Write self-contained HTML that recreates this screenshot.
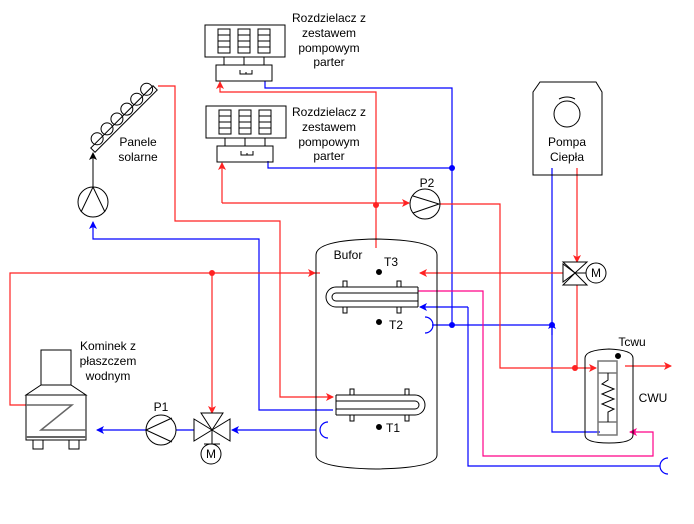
<!DOCTYPE html>
<html><head><meta charset="utf-8"><style>
html,body{margin:0;padding:0;background:#fff}
svg{display:block;font-family:"Liberation Sans",sans-serif;font-size:12px}
</style></head><body>
<svg width="694" height="524" viewBox="0 0 694 524" xmlns="http://www.w3.org/2000/svg">
<defs>
<marker id="ar" markerWidth="8" markerHeight="8" refX="7" refY="4" orient="auto" markerUnits="userSpaceOnUse"><path d="M0,0 L8,4 L0,8 L2,4z" fill="#f22"/></marker>
<marker id="ab" markerWidth="8" markerHeight="8" refX="7" refY="4" orient="auto" markerUnits="userSpaceOnUse"><path d="M0,0 L8,4 L0,8 L2,4z" fill="#00f"/></marker>
<marker id="ap" markerWidth="8" markerHeight="8" refX="7" refY="4" orient="auto" markerUnits="userSpaceOnUse"><path d="M0,0 L8,4 L0,8 L2,4z" fill="#f08"/></marker>
<marker id="ak" markerWidth="8" markerHeight="8" refX="7" refY="4" orient="auto" markerUnits="userSpaceOnUse"><path d="M0,0 L8,4 L0,8 L2,4z" fill="#000"/></marker>
</defs>
<g fill="none" stroke-width="1.2">
<g stroke="#00f">
<path d="M265,81 V88 H452 V325"/>
<path d="M268,161 V168 H452"/>
<path d="M432,325 H552"/>
<path d="M552,168 V432 H600"/>
<path d="M468,307 V466 H660"/>
<path d="M468,307 H420" marker-end="url(#ab)"/>
<path d="M316,430 H232" marker-end="url(#ab)"/>
<path d="M194,430 H176"/>
<path d="M146,430 H97" marker-end="url(#ab)"/>
<path d="M333,410 H259 V239 H93 V222" marker-end="url(#ab)"/>
<path d="M552,335 V322" marker-end="url(#ab)"/>
</g>
<g stroke="#f22">
<path d="M376,248 V92 H220 V82" marker-end="url(#ar)"/>
<path d="M222,203 V163" marker-end="url(#ar)"/>
<path d="M222,203 H409" marker-end="url(#ar)"/>
<path d="M440,204 H500 V368 H596" marker-end="url(#ar)"/>
<path d="M158,86 H175 V221 H280 V397 H333" marker-end="url(#ar)"/>
<path d="M26,405 H10 V273 H315" marker-end="url(#ar)"/>
<path d="M315,273 H320"/>
<path d="M212,273 V413" marker-end="url(#ar)"/>
<path d="M565,273 H420" marker-end="url(#ar)"/>
<path d="M577,168 V262" marker-end="url(#ar)"/>
<path d="M577,285 V368"/>
<path d="M625,366 H671" marker-end="url(#ar)"/>
</g>
<path stroke="#f08" d="M418,291 H483 V456 H653 V432 H630" marker-end="url(#ap)"/>
<g stroke="none">
<circle cx="212" cy="273" r="3" fill="#f22"/>
<circle cx="376" cy="205" r="3" fill="#f22"/>
<circle cx="575" cy="368" r="3" fill="#f22"/>
<circle cx="452" cy="168" r="3" fill="#00f"/>
<circle cx="452" cy="325" r="3" fill="#00f"/>
<circle cx="552" cy="325" r="3" fill="#00f"/>
</g>
<g stroke="#000" stroke-width="1">
<g>
<rect x="205" y="25" width="80" height="32"/>
<rect x="218" y="29" width="12" height="24"/><path d="M218,35H230M218,41H230M218,47H230"/>
<rect x="238" y="29" width="12" height="24"/><path d="M238,35H250M238,41H250M238,47H250"/>
<rect x="258" y="29" width="12" height="24"/><path d="M258,35H270M258,41H270M258,47H270"/>
<path d="M224,57V65M244,57V65M264,57V65"/>
<rect x="216" y="65" width="56" height="16"/>
<path d="M240,70V74H252V70M246,74V72"/>
</g>
<g transform="translate(1,81)">
<rect x="205" y="25" width="80" height="32"/>
<rect x="218" y="29" width="12" height="24"/><path d="M218,35H230M218,41H230M218,47H230"/>
<rect x="238" y="29" width="12" height="24"/><path d="M238,35H250M238,41H250M238,47H250"/>
<rect x="258" y="29" width="12" height="24"/><path d="M258,35H270M258,41H270M258,47H270"/>
<path d="M224,57V65M244,57V65M264,57V65"/>
<rect x="216" y="65" width="56" height="16"/>
<path d="M240,70V74H252V70M246,74V72"/>
</g>
<g transform="translate(124,119) rotate(-45)">
<rect x="-44" y="-3" width="88" height="6"/>
<circle cx="-33" cy="-5" r="6"/><circle cx="-19" cy="-5" r="6"/><circle cx="-5" cy="-5" r="6"/><circle cx="9" cy="-5" r="6"/><circle cx="23" cy="-5" r="6"/><circle cx="37" cy="-5" r="6"/>
</g>
<path d="M93,187 V153" marker-end="url(#ak)"/>
<circle cx="93" cy="202" r="15" fill="#fff"/><path d="M81,212 L93,187 L105,212"/>
<circle cx="425" cy="204" r="15" fill="#fff"/><path d="M413,196 L439,204 L413,213"/>
<circle cx="161" cy="430" r="15" fill="#fff"/><path d="M172,418 L146,430 L172,442"/>
<path d="M194,419 L230,441 V419 L194,441Z" fill="#fff"/>
<path d="M201,413 H223 L212,430Z" fill="#fff"/>
<path d="M212,430V444M204,444H220"/>
<circle cx="211" cy="454" r="10" fill="#fff"/>
<path d="M563,262 H587 L575,273 Z M563,285 H587 L575,273Z" fill="#fff"/>
<path d="M563,264 V282 L575,273Z" fill="#fff"/>
<path d="M575,273H586"/>
<circle cx="596" cy="273" r="10" fill="#fff"/>
<rect x="41" y="350" width="30" height="35"/>
<path d="M41,385 H71 L86,395 H26Z"/>
<rect x="26" y="395" width="60" height="45"/>
<path d="M26,437 H86" stroke="#666" stroke-width="2"/>
<rect x="33" y="440" width="10" height="9"/><rect x="69" y="440" width="10" height="9"/>
<path d="M26,405 H72 L41,430 H86" stroke="#666" stroke-width="1.5"/>
<path d="M316,255 Q316,240 376,239 Q437,240 437,255 V455 Q437,468 376,469 Q316,468 316,455Z"/>
<path d="M326,297 a10,10 0 0 1 10,-10 H418 M418,307 H336 a10,10 0 0 1 -10,-10 M336,293 a4,4 0 0 0 0,8 H418 M418,293 H336" />
<path d="M418,287 V307"/>
<rect x="343" y="281" width="4" height="6"/><rect x="397" y="281" width="4" height="6"/>
<rect x="343" y="307" width="4" height="6"/><rect x="397" y="307" width="4" height="6"/>
<path d="M425,405 a10,10 0 0 0 -10,-10 H336 M336,415 H415 a10,10 0 0 0 10,-10 M415,401 a4,4 0 0 1 0,8 H336 M336,401 H415"/>
<path d="M336,395 V415"/>
<rect x="350" y="389" width="4" height="6"/><rect x="405" y="389" width="4" height="6"/>
<rect x="350" y="415" width="4" height="6"/><rect x="405" y="415" width="4" height="6"/>
<circle cx="379" cy="272" r="2.5" fill="#000"/>
<circle cx="379" cy="322" r="2.5" fill="#000"/>
<circle cx="379" cy="427" r="2.5" fill="#000"/>
<path d="M533,175 V92 L540,82 H596 L602,92 V175Z"/>
<circle cx="567" cy="114" r="13"/>
<path d="M559,99 Q567,95 575,99"/>
<path d="M585,358 Q585,350 609,349 Q633,350 633,358 V435 Q633,443 609,443 Q585,443 585,435Z"/>
<rect x="598" y="361" width="19" height="74" stroke="#777" stroke-width="1.5"/>
<path d="M598,373H617M598,422H617" stroke="#777" stroke-width="1.5"/>
<path d="M608,373 V380 L602,384 L614,389 L602,394 L614,399 L602,404 L614,409 L608,412 V422"/>
<circle cx="618" cy="356" r="2.5" fill="#000"/>
</g>
<path d="M425,317 a8,8 0 0 1 0,16" stroke="#00f"/>
<path d="M328,422 a8,8 0 0 0 0,16" stroke="#00f"/>
<path d="M668,458 a8,8 0 0 0 0,16" stroke="#00f"/>
</g>
<g fill="#000" text-anchor="middle">
<text x="329" y="22">Rozdzielacz z</text><text x="329" y="37">zestawem</text><text x="329" y="52">pompowym</text><text x="329" y="66">parter</text>
<text x="329" y="116">Rozdzielacz z</text><text x="329" y="131">zestawem</text><text x="329" y="146">pompowym</text><text x="329" y="160">parter</text>
<text x="138" y="146">Panele</text><text x="138" y="161">solarne</text>
<text x="108" y="350">Kominek z</text><text x="108" y="365">płaszczem</text><text x="108" y="380">wodnym</text>
<text x="161" y="411">P1</text>
<text x="211" y="458">M</text>
<text x="596" y="277">M</text>
<text x="427" y="187">P2</text>
<text x="348" y="259">Bufor</text>
<text x="391" y="266">T3</text>
<text x="396" y="329">T2</text>
<text x="393" y="432">T1</text>
<text x="567" y="146">Pompa</text><text x="567" y="161">Ciepła</text>
<text x="632" y="346">Tcwu</text>
<text x="653" y="402">CWU</text>
</g>
</svg>
</body></html>
